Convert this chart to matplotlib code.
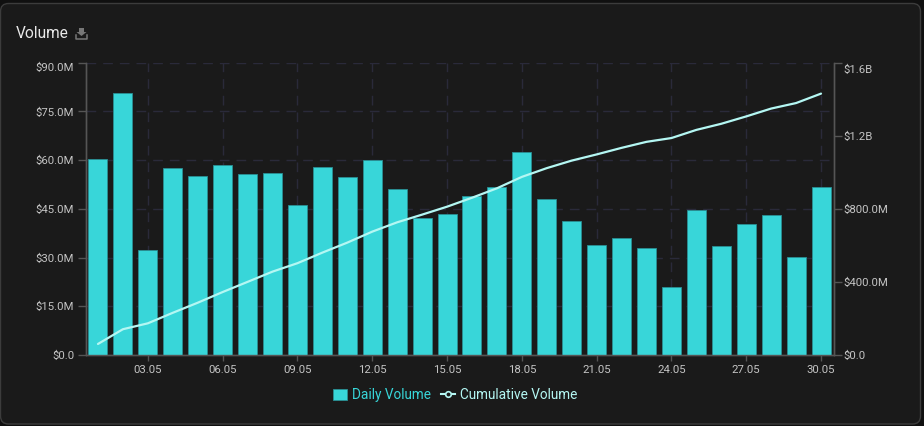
import matplotlib
matplotlib.use("Agg")
import matplotlib.pyplot as plt
from matplotlib.patches import FancyBboxPatch, Polygon, Patch
from matplotlib.lines import Line2D
from matplotlib.transforms import ScaledTranslation

plt.rcParams['font.family'] = ['Roboto', 'DejaVu Sans']

days = [f"{d:02d}.05" for d in range(1, 31)]
daily = [60.4, 80.7, 32.3, 57.6, 55.1, 58.5, 55.7, 56.0, 46.2, 57.9,
         54.8, 60.0, 51.1, 42.1, 43.4, 48.9, 51.7, 62.5, 48.0, 41.2,
         33.8, 36.0, 32.9, 20.8, 44.6, 33.5, 40.3, 43.0, 30.1, 51.7]
cumulative = [60.4, 141.1, 173.4, 231.0, 286.1, 344.6, 400.3, 456.3, 502.5, 560.4,
              615.2, 675.2, 726.3, 768.4, 811.8, 860.7, 912.4, 974.9, 1022.9, 1064.1,
              1097.9, 1133.9, 1166.8, 1187.6, 1232.2, 1265.7, 1306.0, 1349.0, 1379.1, 1430.8]
left_ticks = [0, 15, 30, 45, 60, 75, 90]
left_labels = ["$0.0", "$15.0M", "$30.0M", "$45.0M", "$60.0M", "$75.0M", "$90.0M"]
right_ticks = [0, 400, 800, 1200, 1600]
right_labels = ["$0.0", "$400.0M", "$800.0M", "$1.2B", "$1.6B"]
tick_idx = list(range(2, 30, 3))

W, H = 924, 426
BAR = "#38d6d9"
LINE = "#b4f7f3"
TXT = "#c4c4c4"
AX = "#555555"
GRID = "#2a2a3a"
FS = 8.2

fig = plt.figure(figsize=(W / 100, H / 100), dpi=100, facecolor="#101010")
bg = fig.add_axes([0, 0, 1, 1], zorder=0)
bg.set_xlim(0, W); bg.set_ylim(H, 0); bg.axis("off")
bg.add_patch(FancyBboxPatch((0.5, 3.5), 920, 420.5, boxstyle="round,pad=0,rounding_size=8",
                            fc="#1a1a1a", ec="#3c3c3c", lw=1))
bg.text(16, 33, "Volume", color="#e8e8e8", fontsize=11.2, va="center", ha="left")
# download icon
bg.add_patch(Polygon([(79, 28), (84, 28), (84, 32), (86.5, 32), (81.5, 36), (76.5, 32), (79, 32)],
                     fc="#777777", ec="none"))
bg.plot([76, 76, 87, 87], [35, 39, 39, 35], color="#777777", lw=1.1)

ax = fig.add_axes([85.5 / W, 1 - 355 / H, (833.5 - 85.5) / W, (355 - 62.7) / H], zorder=1)
ax.patch.set_alpha(0)
x = list(range(30))
ax.bar(x, daily, width=0.76, color=BAR, edgecolor="#2a8f94", linewidth=0.6, zorder=3)
ax.set_xlim(-0.5, 29.5)
ax.set_ylim(0, 90)
ax.set_yticks(left_ticks, left_labels)
ax.set_xticks(tick_idx, [days[i] for i in tick_idx])
ax.grid(True, color=GRID, linestyle=(0, (7, 5)), linewidth=1, zorder=0)
ax.set_axisbelow(True)
ax.tick_params(axis="y", colors=AX, labelcolor=TXT, labelsize=FS, length=6, width=1, pad=2)
ax.tick_params(axis="x", colors=AX, labelcolor=TXT, labelsize=FS, length=4, width=1, pad=3)
ax.spines["top"].set_visible(False)
for s in ["left", "right", "bottom"]:
    ax.spines[s].set_color(AX)
    ax.spines[s].set_linewidth(1)

ax2 = ax.twinx()
ax2.patch.set_alpha(0)
ax2.plot(x, cumulative, color=LINE, lw=1.6, solid_capstyle="round", solid_joinstyle="round", zorder=5)
ax2.set_ylim(0, 1600)
ax2.set_yticks(right_ticks, right_labels)
ax2.tick_params(axis="y", colors=AX, labelcolor=TXT, labelsize=FS, length=6, width=1, pad=1)
ax2.spines["top"].set_visible(False)
for s in ["left", "right", "bottom"]:
    ax2.spines[s].set_color(AX)
    ax2.spines[s].set_linewidth(1)

# the top labels sit below their ticks in the reference
lab_l = ax.get_yticklabels()[-1]
lab_l.set_transform(lab_l.get_transform() + ScaledTranslation(0, -4 / 100, fig.dpi_scale_trans))
lab_r = ax2.get_yticklabels()[-1]
lab_r.set_transform(lab_r.get_transform() + ScaledTranslation(0, -6 / 100, fig.dpi_scale_trans))

handles = [Patch(fc=BAR, ec="#2a8f94", lw=0.6),
           Line2D([], [], color=LINE, lw=1.5, marker="o", ms=4, mfc="#1a1a1a", mec=LINE, mew=1.2)]
leg = fig.legend(handles, ["Daily Volume", "Cumulative Volume"], loc="center",
                 bbox_to_anchor=(455 / W, 1 - 395 / H), ncol=2, frameon=False, fontsize=9.8,
                 handlelength=1.05, handleheight=0.85, handletextpad=0.32, columnspacing=0.75,
                 borderpad=0, borderaxespad=0)
leg.get_texts()[0].set_color(BAR)
leg.get_texts()[1].set_color(LINE)

fig.savefig("out.png", dpi=100, facecolor=fig.get_facecolor())
